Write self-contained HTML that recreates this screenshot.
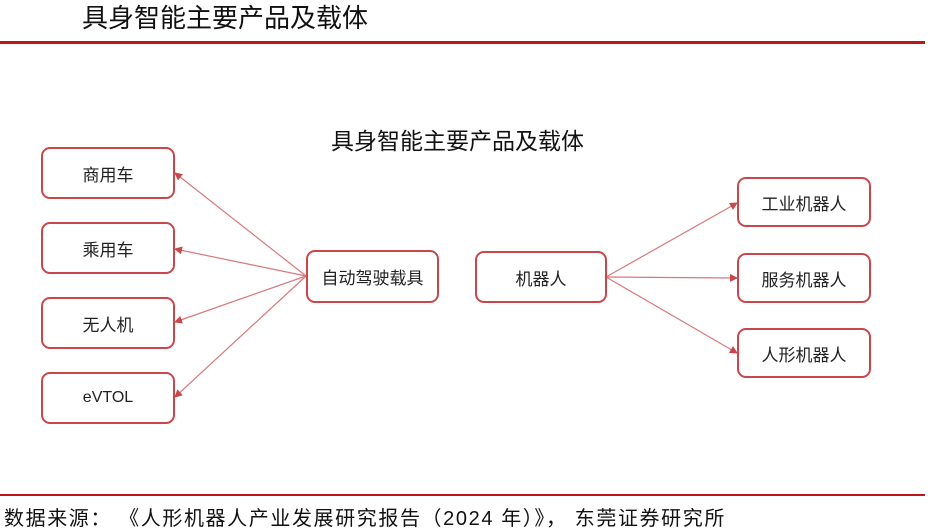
<!DOCTYPE html>
<html><head><meta charset="utf-8"><style>
body{margin:0;width:945px;height:530px;background:#fff;position:relative;overflow:hidden;font-family:"Liberation Sans","Noto Sans CJK SC",sans-serif;}
.t{position:absolute;white-space:nowrap;color:#111}
.b{position:absolute;border:2px solid #c9474b;border-radius:9px;box-sizing:border-box;display:flex;align-items:center;justify-content:center;font-size:17px;color:#222;background:#fff}
</style></head><body>
<div class="t" style="left:82px;top:-2px;font-size:26px;">具身智能主要产品及载体</div>
<div style="position:absolute;left:0;top:41px;width:925px;height:3px;background:#c0141c"></div>
<div class="t" style="left:331px;top:122px;font-size:23px;">具身智能主要产品及载体</div>
<svg style="position:absolute;left:0;top:0" width="945" height="530">
<defs><marker id="a" markerWidth="8" markerHeight="8" refX="7" refY="4" orient="auto" markerUnits="userSpaceOnUse"><path d="M0,0 L8,4 L0,8 z" fill="#c9474b"/></marker></defs>
<g stroke="#d8787b" stroke-width="1.2" fill="none" marker-end="url(#a)">
<line x1="306" y1="276" x2="175" y2="173"/>
<line x1="306" y1="276" x2="175" y2="249"/>
<line x1="306" y1="276" x2="175" y2="322"/>
<line x1="306" y1="276" x2="175" y2="397"/>
<line x1="606" y1="277" x2="737" y2="203"/>
<line x1="606" y1="277" x2="737" y2="278"/>
<line x1="606" y1="277" x2="737" y2="353"/>
</g></svg>
<div class="b" style="left:41px;top:147px;width:134px;height:52px">商用车</div>
<div class="b" style="left:41px;top:222px;width:134px;height:52px">乘用车</div>
<div class="b" style="left:41px;top:297px;width:134px;height:52px">无人机</div>
<div class="b" style="left:41px;top:372px;width:134px;height:52px;font-size:16px">eVTOL</div>
<div class="b" style="left:306px;top:250px;width:133px;height:53px">自动驾驶载具</div>
<div class="b" style="left:475px;top:251px;width:132px;height:52px">机器人</div>
<div class="b" style="left:737px;top:177px;width:134px;height:50px">工业机器人</div>
<div class="b" style="left:737px;top:253px;width:134px;height:50px">服务机器人</div>
<div class="b" style="left:737px;top:328px;width:134px;height:50px">人形机器人</div>
<div style="position:absolute;left:0;top:494px;width:925px;height:2px;background:#c0141c"></div>
<div class="t" style="left:4px;top:502px;font-size:20px;letter-spacing:1.6px;">数据来源：&nbsp;《人形机器人产业发展研究报告（2024 年）》，&nbsp;东莞证券研究所</div>
</body></html>
